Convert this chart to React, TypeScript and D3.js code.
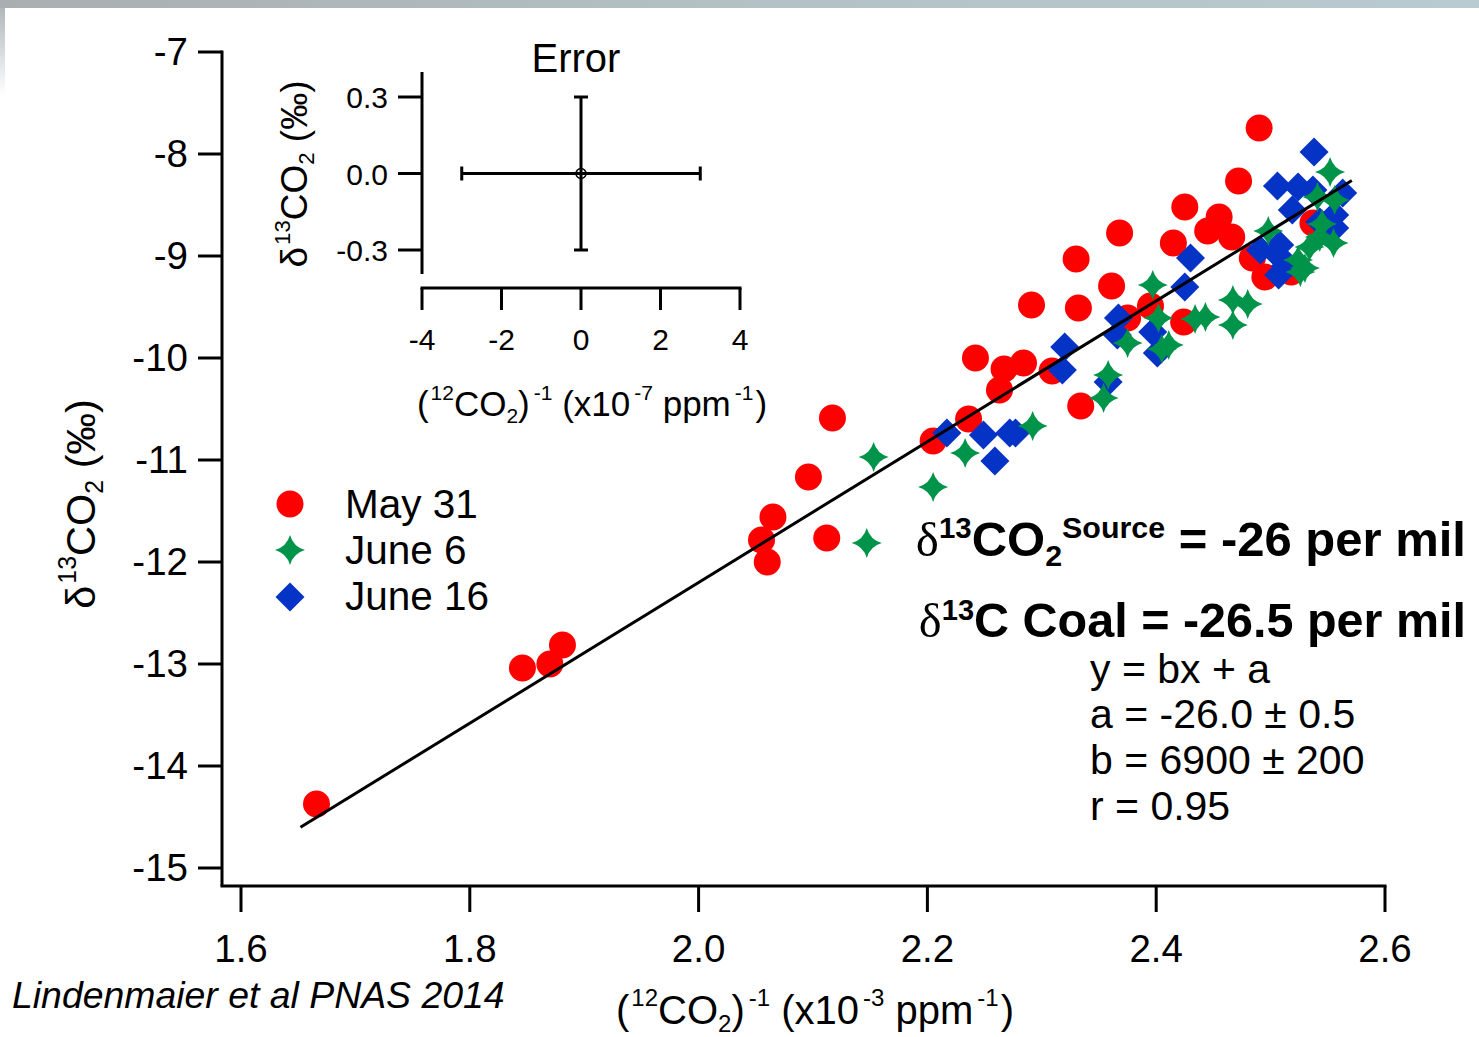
import React from 'react';
import * as d3 from 'd3';

// δ13CO2 (‰) against 1/[12CO2] (x10^-3 ppm^-1), one list per sampling day
const may31: [number, number][] = [
  [1.666, -14.373], [1.846, -13.039], [1.870, -13.0], [1.881, -12.814],
  [2.065, -11.559], [2.055, -11.784], [2.060, -12.0], [2.096, -11.167],
  [2.117, -10.588], [2.112, -11.765], [2.205, -10.814], [2.236, -10.598],
  [2.242, -10.0], [2.263, -10.314], [2.267, -10.108], [2.284, -10.049],
  [2.291, -9.48], [2.309, -10.127], [2.330, -9.029], [2.332, -9.51],
  [2.334, -10.471], [2.361, -9.294], [2.368, -8.775], [2.375, -9.608],
  [2.395, -9.49], [2.415, -8.873], [2.425, -8.52], [2.424, -9.647],
  [2.490, -7.745], [2.472, -8.265], [2.455, -8.618], [2.445, -8.755],
  [2.466, -8.814], [2.484, -9.02], [2.495, -9.206], [2.518, -9.157],
  [2.537, -8.676],
];

const june6: [number, number][] = [
  [2.153, -10.971], [2.147, -11.814], [2.205, -11.265], [2.233, -10.931],
  [2.292, -10.667], [2.358, -10.167], [2.354, -10.392], [2.375, -9.853],
  [2.397, -9.284], [2.402, -9.608], [2.405, -9.912], [2.411, -9.873],
  [2.434, -9.618], [2.443, -9.598], [2.467, -9.431], [2.467, -9.676],
  [2.480, -9.471], [2.498, -8.755], [2.552, -8.176], [2.541, -8.422],
  [2.556, -8.451], [2.545, -8.686], [2.543, -8.814], [2.555, -8.873],
  [2.534, -8.912], [2.524, -9.039], [2.530, -9.118], [2.526, -9.157],
];

const june16: [number, number][] = [
  [2.217, -10.735], [2.249, -10.755], [2.259, -11.01], [2.272, -10.735],
  [2.277, -10.735], [2.320, -9.892], [2.318, -10.118], [2.358, -10.235],
  [2.367, -9.608], [2.366, -9.775], [2.397, -9.745], [2.401, -9.951],
  [2.430, -9.02], [2.425, -9.304], [2.538, -7.98], [2.506, -8.314],
  [2.524, -8.324], [2.519, -8.549], [2.537, -8.353], [2.563, -8.382],
  [2.556, -8.598], [2.556, -8.725], [2.543, -8.667], [2.491, -8.941],
  [2.508, -8.892], [2.508, -9.01], [2.513, -9.098], [2.507, -9.186],
];

const xTicks = [1.6, 1.8, 2.0, 2.2, 2.4, 2.6];
const yTicks = [-7, -8, -9, -10, -11, -12, -13, -14, -15];
const insetXTicks = [-4, -2, 0, 2, 4];
const insetYTicks = [0.3, 0.0, -0.3];

// Keeling fit y = b·x + a (x in ppm^-1), drawn across the data span
const fitA = -26.0;
const fitB = 6900;
const fitSpan = [1.652, 2.571];

// Typical measurement error shown in the inset
const errX = 3; // x10^-7 ppm^-1
const errY = 0.3; // per mil

const RED = '#ff0000';
const GREEN = '#00944a';
const BLUE = '#0433c6';
const FONT = '"Liberation Sans", Arial, Helvetica, sans-serif';

type Seg = { t: string; k?: 'sup' | 'sub'; serif?: boolean; scale?: number; dx?: number; lift?: number };

function Rich(props: {
  segs: Seg[];
  size: number;
  x: number;
  y: number;
  anchor?: 'start' | 'middle' | 'end';
  weight?: string;
  style?: string;
  transform?: string;
}) {
  const { segs, size, x, y, anchor = 'start', weight = 'normal', style = 'normal', transform } = props;
  let cur = 0;
  return (
    <text
      x={x}
      y={y}
      fontSize={size}
      fontFamily={FONT}
      fontWeight={weight}
      fontStyle={style}
      textAnchor={anchor}
      transform={transform}
      fill="#000"
    >
      {segs.map((s, i) => {
        const lift = s.lift ?? (s.k === 'sup' ? 0.45 : s.k === 'sub' ? -0.2 : 0);
        const target = -size * lift;
        const dy = target - cur;
        cur = target;
        const fs = s.k ? size * (s.scale ?? 0.6) : undefined;
        return (
          <tspan
            key={i}
            dy={dy}
            dx={s.dx}
            fontSize={fs}
            fontFamily={s.serif ? '"Liberation Serif", "Times New Roman", serif' : undefined}
            fontWeight={s.serif ? 'normal' : undefined}
          >
            {s.t}
          </tspan>
        );
      })}
    </text>
  );
}

function starPath(r: number) {
  const c = r * 0.22;
  return `M0,${-r} Q${c},${-c} ${r},0 Q${c},${c} 0,${r} Q${-c},${c} ${-r},0 Q${-c},${-c} 0,${-r} Z`;
}
function diamondPath(r: number) {
  return `M0,${-r} L${r},0 L0,${r} L${-r},0 Z`;
}

const hyphen = (s: string) => s.replace('\u2212', '-');

export default function App() {
  const x = d3.scaleLinear().domain([1.6, 2.6]).range([241, 1385]);
  const y = d3.scaleLinear().domain([-7, -15]).range([52, 868]);
  const ix = d3.scaleLinear().domain([-4, 4]).range([422, 740]);
  const iy = d3.scaleLinear().domain([0.3, -0.3]).range([97, 250]);

  const axisLeft = 222;
  const axisBottom = 886;
  const fmtX = d3.format('.1f');

  const fitLine = d3
    .line<number>()
    .x((d) => x(d))
    .y((d) => y((fitB * d) / 1000 + fitA));

  const R = 13.5;
  const star = starPath(15);
  const diamond = diamondPath(14.5);

  const insetAxisLeft = 422;
  const insetAxisBottom = 288;

  const titleSegs = (exp: string): Seg[] => [
    { t: '(' },
    { t: '12', k: 'sup', dx: 2 },
    { t: 'CO' },
    { t: '2', k: 'sub' },
    { t: ')' },
    { t: '-1', k: 'sup', dx: 4 },
    { t: ' (x10' },
    { t: '-' + exp, k: 'sup', dx: 4 },
    { t: ' ppm' },
    { t: '-1', k: 'sup', dx: 4 },
    { t: ')', dx: 2 },
  ];
  const deltaSegs: Seg[] = [
    { t: 'δ' },
    { t: '13', k: 'sup', dx: 2 },
    { t: 'CO' },
    { t: '2', k: 'sub' },
    { t: ' (‰)' },
  ];

  return (
    <svg
      width={1479}
      height={1037}
      style={{ position: 'absolute', left: 0, top: 0, background: '#fff' }}
    >
      <defs>
        <linearGradient id="topBand" x1="0" x2="1" y1="0" y2="0">
          <stop offset="0" stopColor="#a9aeb1" />
          <stop offset="0.5" stopColor="#b3c1c5" />
          <stop offset="1" stopColor="#b8cbd0" />
        </linearGradient>
        <linearGradient id="leftBand" x1="0" x2="0" y1="0" y2="1">
          <stop offset="0" stopColor="#aab0b3" />
          <stop offset="1" stopColor="#ffffff" />
        </linearGradient>
      </defs>
      <rect x={0} y={0} width={1479} height={1037} fill="#fff" />
      <rect x={0} y={0} width={5} height={95} fill="url(#leftBand)" />
      <rect x={0} y={0} width={1479} height={8} fill="url(#topBand)" />

      {/* main axes */}
      <g stroke="#000" strokeWidth={3} fill="none">
        <line x1={axisLeft} y1={y(-7) - 1.5} x2={axisLeft} y2={axisBottom} />
        <line x1={axisLeft - 1.5} y1={axisBottom} x2={x(2.6) + 1.5} y2={axisBottom} />
        {yTicks.map((t) => (
          <line key={t} x1={198} x2={axisLeft} y1={y(t)} y2={y(t)} />
        ))}
        {xTicks.map((t) => (
          <line key={t} x1={x(t)} x2={x(t)} y1={axisBottom} y2={axisBottom + 26} />
        ))}
      </g>
      <g fontFamily={FONT} fontSize={38.5} fill="#000">
        {yTicks.map((t) => (
          <text key={t} x={188} y={y(t) + 13} textAnchor="end">
            {String(t)}
          </text>
        ))}
        {xTicks.map((t) => (
          <text key={t} x={x(t)} y={962} textAnchor="middle">
            {fmtX(t)}
          </text>
        ))}
      </g>
      <Rich segs={titleSegs('3')} size={40} x={815} y={1024} anchor="middle" />
      <Rich
        segs={deltaSegs}
        size={41.5}
        x={0}
        y={0}
        anchor="middle"
        transform="translate(95,504) rotate(-90)"
      />

      {/* data */}
      <g fill={RED}>
        {may31.map(([a, b], i) => (
          <circle key={i} cx={x(a)} cy={y(b)} r={R} />
        ))}
      </g>
      <g fill={BLUE}>
        {june16.map(([a, b], i) => (
          <path key={i} d={diamond} transform={`translate(${x(a)},${y(b)})`} />
        ))}
      </g>
      <g fill={GREEN}>
        {june6.map(([a, b], i) => (
          <path key={i} d={star} transform={`translate(${x(a)},${y(b)})`} />
        ))}
      </g>
      <path d={fitLine(fitSpan) ?? ''} stroke="#000" strokeWidth={3} fill="none" />

      {/* legend */}
      <g>
        <circle cx={290} cy={504} r={R} fill={RED} />
        <path d={star} transform="translate(290,550)" fill={GREEN} />
        <path d={diamond} transform="translate(290,597)" fill={BLUE} />
        <g fontFamily={FONT} fontSize={40.5} fill="#000">
          <text x={345} y={518}>May 31</text>
          <text x={345} y={564}>June 6</text>
          <text x={345} y={610}>June 16</text>
        </g>
      </g>

      {/* inset: typical error */}
      <g stroke="#000" strokeWidth={3} fill="none">
        <line x1={insetAxisLeft} x2={insetAxisLeft} y1={72} y2={274} />
        {insetYTicks.map((t) => (
          <line key={t} x1={398} x2={insetAxisLeft} y1={iy(t)} y2={iy(t)} />
        ))}
        <line x1={ix(-4) - 1.5} x2={ix(4) + 1.5} y1={insetAxisBottom} y2={insetAxisBottom} />
        {insetXTicks.map((t) => (
          <line key={t} x1={ix(t)} x2={ix(t)} y1={insetAxisBottom} y2={insetAxisBottom + 22} />
        ))}
      </g>
      <g stroke="#000" strokeWidth={3} fill="none">
        <line x1={ix(-errX)} x2={ix(errX)} y1={iy(0)} y2={iy(0)} />
        <line x1={ix(-errX)} x2={ix(-errX)} y1={iy(0) - 7} y2={iy(0) + 7} />
        <line x1={ix(errX)} x2={ix(errX)} y1={iy(0) - 7} y2={iy(0) + 7} />
        <line x1={ix(0)} x2={ix(0)} y1={iy(errY)} y2={iy(-errY)} />
        <line x1={ix(0) - 7} x2={ix(0) + 7} y1={iy(errY)} y2={iy(errY)} />
        <line x1={ix(0) - 7} x2={ix(0) + 7} y1={iy(-errY)} y2={iy(-errY)} />
        <circle cx={ix(0)} cy={iy(0)} r={5} strokeWidth={1.5} />
      </g>
      <g fontFamily={FONT} fontSize={30} fill="#000">
        {insetYTicks.map((t) => (
          <text key={t} x={388} y={iy(t) + 11} textAnchor="end">
            {hyphen(d3.format('.1f')(t))}
          </text>
        ))}
        {insetXTicks.map((t) => (
          <text key={t} x={ix(t)} y={350} textAnchor="middle">
            {String(t)}
          </text>
        ))}
      </g>
      <text x={576} y={72} fontFamily={FONT} fontSize={40} textAnchor="middle">
        Error
      </text>
      <Rich segs={titleSegs('7')} size={35} x={592} y={416} anchor="middle" />
      <Rich
        segs={deltaSegs}
        size={37}
        x={0}
        y={0}
        anchor="middle"
        transform="translate(307,174) rotate(-90)"
      />

      {/* source signature annotations */}
      <Rich
        segs={[
          { t: 'δ', serif: true },
          { t: '13', k: 'sup', scale: 0.6, lift: 0.36 },
          { t: 'CO' },
          { t: '2', k: 'sub', scale: 0.62 },
          { t: 'Source', k: 'sup', scale: 0.62, lift: 0.36 },
          { t: ' = -26 per mil' },
        ]}
        size={49}
        x={1466}
        y={556}
        anchor="end"
        weight="bold"
      />
      <Rich
        segs={[
          { t: 'δ', serif: true },
          { t: '13', k: 'sup', scale: 0.6, lift: 0.36 },
          { t: 'C Coal = -26.5 per mil', lift: 0 },
        ]}
        size={48.5}
        x={1466}
        y={637}
        anchor="end"
        weight="bold"
      />
      <g fontFamily={FONT} fontSize={41} fill="#000">
        <text x={1090} y={683}>y = bx + a</text>
        <text x={1090} y={728}>a = -26.0 ± 0.5</text>
        <text x={1090} y={774}>b = 6900 ± 200</text>
        <text x={1090} y={820}>r = 0.95</text>
      </g>

      <text x={12} y={1008} fontFamily={FONT} fontSize={37.4} fontStyle="italic" fill="#000">
        Lindenmaier et al PNAS 2014
      </text>
    </svg>
  );
}
